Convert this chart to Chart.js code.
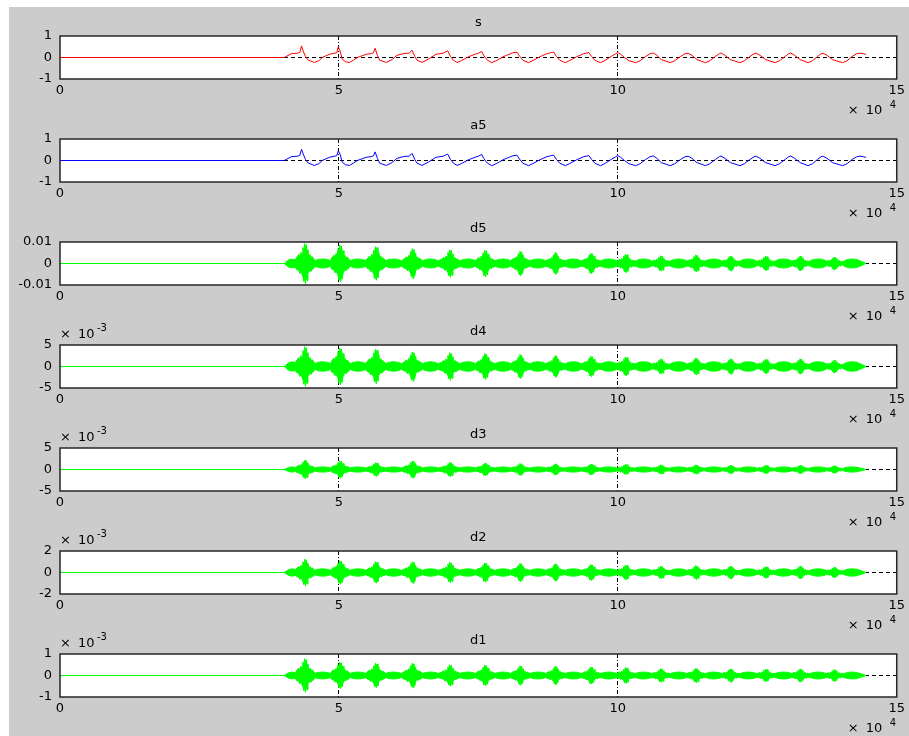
<!DOCTYPE html>
<html>
<head>
<meta charset="utf-8">
<script src="https://cdn.jsdelivr.net/npm/chart.js@4.4.1/dist/chart.umd.min.js"></script>
<style>
  html, body { margin: 0; padding: 0; background: #fff; overflow: hidden; }
  body { width: 909px; height: 736px; position: relative; }
  #fig { position: absolute; left: 9px; top: 7px; right: 0; bottom: 0; background: #cccccc; }
  canvas { position: absolute; left: 0; }
</style>
</head>
<body>
<div id="fig"></div>
<script>
// time axis, in units of 10^4 samples
const xTicks = [0, 5, 10, 15];
const xTickLabels = ['0', '5', '10', '15'];

// y ticks for each subplot
const sTicks = [-1, 0, 1];
const sTickLabels = ['-1', '0', '1'];
const d5Ticks = [-0.01, 0, 0.01];
const d5TickLabels = ['-0.01', '0', '0.01'];
const d4Ticks = [-0.005, 0, 0.005];
const d4TickLabels = ['-5', '0', '5'];
const d3Ticks = [-0.005, 0, 0.005];
const d3TickLabels = ['-5', '0', '5'];
const d2Ticks = [-0.002, 0, 0.002];
const d2TickLabels = ['-2', '0', '2'];
const d1Ticks = [-0.001, 0, 0.001];
const d1TickLabels = ['-1', '0', '1'];

// signal s : [time (x10^4), value]
const sCurve = [
  [0, 0], [4.02, 0], [4.15, 0.18], [4.26, 0.2], [4.30, 0.24], [4.33, 0.54], [4.36, 0.3], [4.40, 0.05],
  [4.45, -0.12], [4.56, -0.23], [4.64, -0.15], [4.70, 0], [4.83, 0.15], [4.92, 0.2], [4.96, 0.22],
  [4.99, 0.5], [5.02, 0.3], [5.06, -0.08], [5.12, -0.2], [5.19, -0.23], [5.26, -0.12], [5.33, 0],
  [5.49, 0.15], [5.58, 0.18], [5.62, 0.22], [5.65, 0.43], [5.69, 0.1], [5.73, -0.12], [5.85, -0.23],
  [5.95, -0.1], [6.04, 0.1], [6.17, 0.19], [6.26, 0.2], [6.31, 0.34], [6.36, 0.05], [6.40, -0.12],
  [6.49, -0.23], [6.60, -0.08], [6.74, 0.15], [6.87, 0.2], [6.95, 0.31], [7.00, 0.05], [7.05, -0.12],
  [7.12, -0.23], [7.20, -0.14], [7.32, 0.03], [7.45, 0.16], [7.50, 0.2], [7.56, 0.28], [7.60, 0.08],
  [7.66, -0.12], [7.74, -0.24], [7.82, -0.15], [7.94, 0.03], [8.06, 0.16], [8.12, 0.22], [8.19, 0.25],
  [8.24, 0.06], [8.30, -0.13], [8.40, -0.24], [8.48, -0.14], [8.60, 0.03], [8.72, 0.17], [8.79, 0.22],
  [8.85, 0.25], [8.90, 0.05], [8.96, -0.13], [9.06, -0.24], [9.14, -0.14], [9.26, 0.03], [9.38, 0.17],
  [9.43, 0.2], [9.48, 0.23], [9.53, 0.05], [9.59, -0.13], [9.69, -0.24], [9.77, -0.14], [9.88, 0.05],
  [9.96, 0.17], [10.00, 0.23], [10.05, 0.15], [10.12, 0], [10.20, -0.15], [10.32, -0.24], [10.40, -0.15],
  [10.50, 0.05], [10.58, 0.18], [10.64, 0.21], [10.70, 0.1], [10.78, -0.1], [10.94, -0.24], [11.02, -0.15],
  [11.12, 0.04], [11.20, 0.17], [11.26, 0.2], [11.33, 0.1], [11.42, -0.1], [11.57, -0.24], [11.65, -0.15],
  [11.75, 0.05], [11.82, 0.18], [11.85, 0.21], [11.92, 0.1], [12.02, -0.1], [12.19, -0.24], [12.27, -0.15],
  [12.37, 0.05], [12.44, 0.17], [12.48, 0.2], [12.55, 0.1], [12.65, -0.1], [12.82, -0.24], [12.90, -0.15],
  [13.00, 0.05], [13.06, 0.17], [13.10, 0.21], [13.17, 0.1], [13.27, -0.1], [13.41, -0.24], [13.49, -0.15],
  [13.58, 0.05], [13.64, 0.17], [13.68, 0.2], [13.75, 0.1], [13.85, -0.1], [14.03, -0.24], [14.11, -0.15],
  [14.20, 0.05], [14.28, 0.17], [14.34, 0.2], [14.40, 0.18], [14.45, 0.14]
];

// a5 follows s, only the first spikes come out lower
const a5Spikes = [[4.33, 0.52], [4.99, 0.45], [5.65, 0.4], [6.31, 0.33], [6.95, 0.3]];

// detail coefficients: burst centres and burst peak amplitude per level
const burstX = [4.40, 5.03, 5.67, 6.33, 7.00, 7.63, 8.26, 8.89, 9.53, 10.15, 10.78, 11.41, 12.03, 12.66, 13.28, 13.89];
const d5Peak = [0.0093, 0.0086, 0.0078, 0.0069, 0.0064, 0.0062, 0.0057, 0.0050, 0.0048, 0.0043, 0.0036, 0.0040, 0.0035, 0.0034, 0.0035, 0.0030];
const d4Peak = [0.0046, 0.0043, 0.0040, 0.0034, 0.0032, 0.0030, 0.0028, 0.0025, 0.0024, 0.0022, 0.0018, 0.0020, 0.0018, 0.0017, 0.0018, 0.0015];
const d3Peak = [0.0022, 0.0020, 0.0016, 0.0020, 0.0017, 0.0015, 0.0014, 0.0013, 0.0013, 0.0012, 0.0011, 0.0011, 0.0010, 0.0010, 0.0010, 0.0009];
const d2Peak = [0.00125, 0.0011, 0.0010, 0.0010, 0.00095, 0.0009, 0.00085, 0.0008, 0.00075, 0.0007, 0.0006, 0.00065, 0.0006, 0.00055, 0.0006, 0.0005];
const d1Peak = [0.00078, 0.00062, 0.00057, 0.00057, 0.0005, 0.00048, 0.00045, 0.00042, 0.0004, 0.00037, 0.00032, 0.00034, 0.00031, 0.0003, 0.00031, 0.00028];
// half-height of the smooth part between bursts
const d5Lens = 0.0021;
const d4Lens = 0.0011;
const d3Lens = 0.0006;
const d2Lens = 0.00034;
const d1Lens = 0.00016;

// burst outline: [offset from centre, upper fraction, lower fraction]
const burstShape = [
  [-0.16, 0.3, 0.3], [-0.12, 0.45, 0.35], [-0.10, 0.35, 0.5], [-0.08, 0.55, 0.4], [-0.06, 0.4, 0.55],
  [-0.045, 0.8, 0.65], [-0.03, 0.6, 0.9], [-0.015, 1, 0.75], [0, 0.8, 1], [0.015, 0.95, 0.7],
  [0.03, 0.6, 0.85], [0.045, 0.7, 0.5], [0.06, 0.35, 0.45], [0.08, 0.45, 0.3], [0.10, 0.3, 0.4],
  [0.12, 0.35, 0.28], [0.14, 0.28, 0.28]
];
// smooth part after each burst: [offset from centre, fraction of lens height]
const lensShape = [[0.17, 0.6], [0.23, 0.9], [0.31, 1], [0.39, 0.9], [0.45, 0.6]];
// signal onset and end
const onset = [[0, 0], [4.02, 0], [4.10, 0.8], [4.16, 1], [4.22, 0.8]];
const signalEnd = 14.45;

const textColor = '#000000';
const fontFamily = '"DejaVu Sans", "Liberation Sans", Arial, sans-serif';
const tickFont = { family: fontFamily, size: 13 };

// upper and lower edges of a detail band
const buildBand = (peaks, lens) => {
  const upper = [];
  const lower = [];
  onset.forEach(([x, f]) => {
    upper.push({ x, y: f * lens });
    lower.push({ x, y: -f * lens });
  });
  burstX.forEach((c, i) => {
    burstShape.forEach(([dx, fu, fl]) => {
      upper.push({ x: c + dx, y: fu * peaks[i] });
      lower.push({ x: c + dx, y: -fl * peaks[i] });
    });
    lensShape.forEach(([dx, f]) => {
      upper.push({ x: c + dx, y: f * lens });
      lower.push({ x: c + dx, y: -f * lens });
    });
  });
  upper.push({ x: signalEnd, y: 0 });
  lower.push({ x: signalEnd, y: 0 });
  return [
    { data: upper, borderColor: '#00ff00', borderWidth: 1, pointRadius: 0, fill: false },
    { data: lower, borderColor: '#00ff00', borderWidth: 1, pointRadius: 0, fill: '-1', backgroundColor: '#00ff00' }
  ];
};

const toPoints = (curve) => curve.map(([x, y]) => ({ x, y }));

const a5Curve = sCurve.map(([x, y]) => {
  const spike = a5Spikes.find((p) => p[0] === x);
  return [x, spike ? spike[1] : y];
});

// white axes box, title and exponent labels
const panelDecor = {
  id: 'panelDecor',
  beforeDraw(chart) {
    const a = chart.chartArea;
    const ctx = chart.ctx;
    ctx.save();
    ctx.fillStyle = '#ffffff';
    ctx.fillRect(a.left, a.top, a.right - a.left, a.bottom - a.top);
    ctx.restore();
  },
  afterDraw(chart, args, opts) {
    const a = chart.chartArea;
    const ctx = chart.ctx;
    ctx.save();
    ctx.strokeStyle = '#262626';
    ctx.lineWidth = 1.5;
    ctx.strokeRect(a.left, a.top, a.right - a.left, a.bottom - a.top);
    ctx.fillStyle = textColor;
    ctx.textBaseline = 'middle';
    ctx.font = '13px ' + fontFamily;
    ctx.textAlign = 'center';
    ctx.fillText(opts.title, (a.left + a.right) / 2, a.top - 13);
    ctx.textAlign = 'left';
    ctx.fillText('×', a.right - 49, a.bottom + 32);
    ctx.fillText('10', a.right - 31, a.bottom + 32);
    ctx.font = '10px ' + fontFamily;
    ctx.fillText('4', a.right - 7, a.bottom + 26);
    if (opts.yExp) {
      ctx.font = '13px ' + fontFamily;
      ctx.fillText('×', a.left, a.top - 10);
      ctx.fillText('10', a.left + 18, a.top - 10);
      ctx.font = '10px ' + fontFamily;
      ctx.fillText(opts.yExp, a.left + 37, a.top - 17);
    }
    ctx.restore();
  }
};

const panels = [
  { title: 's', top: 36, yTicks: sTicks, yLabels: sTickLabels,
    datasets: [{ data: toPoints(sCurve), borderColor: '#ff0000', borderWidth: 1, pointRadius: 0 }] },
  { title: 'a5', top: 139, yTicks: sTicks, yLabels: sTickLabels,
    datasets: [
      { data: toPoints(a5Curve), borderColor: '#0000ff', borderWidth: 1, pointRadius: 0 },
      { data: [{ x: 0, y: 0 }, { x: 2, y: 0 }], borderColor: '#000000', borderWidth: 1, borderDash: [4, 3], pointRadius: 0 }
    ] },
  { title: 'd5', top: 242, yTicks: d5Ticks, yLabels: d5TickLabels, datasets: buildBand(d5Peak, d5Lens) },
  { title: 'd4', top: 345, yTicks: d4Ticks, yLabels: d4TickLabels, yExp: '-3', datasets: buildBand(d4Peak, d4Lens) },
  { title: 'd3', top: 448, yTicks: d3Ticks, yLabels: d3TickLabels, yExp: '-3', datasets: buildBand(d3Peak, d3Lens) },
  { title: 'd2', top: 551, yTicks: d2Ticks, yLabels: d2TickLabels, yExp: '-3', datasets: buildBand(d2Peak, d2Lens) },
  { title: 'd1', top: 654, yTicks: d1Ticks, yLabels: d1TickLabels, yExp: '-3', datasets: buildBand(d1Peak, d1Lens) }
];

panels.forEach((p) => {
  const canvas = document.createElement('canvas');
  canvas.width = 909;
  canvas.height = 120;
  canvas.style.top = (p.top - 24) + 'px';
  document.body.appendChild(canvas);
  canvas.getContext('2d').letterSpacing = '1px';

  new Chart(canvas, {
    type: 'line',
    data: { datasets: p.datasets },
    options: {
      responsive: false,
      animation: false,
      events: [],
      layout: { padding: { top: 24, right: 10, left: 0, bottom: 0 } },
      elements: { line: { tension: 0 } },
      plugins: {
        legend: { display: false },
        tooltip: { enabled: false },
        panelDecor: { title: p.title, yExp: p.yExp }
      },
      scales: {
        x: {
          type: 'linear',
          min: 0,
          max: 15,
          afterBuildTicks: (s) => { s.ticks = xTicks.map((v) => ({ value: v })); },
          afterFit: (s) => { s.height = 53; },
          ticks: { callback: (v, i) => xTickLabels[i], padding: 4, maxRotation: 0, autoSkip: false, color: textColor, font: tickFont },
          grid: {
            drawTicks: false,
            lineWidth: 1,
            color: (c) => (c.tick && (c.tick.value === 5 || c.tick.value === 10) ? '#000000' : 'rgba(0,0,0,0)')
          },
          border: { display: false, dash: [4, 2, 1, 2] }
        },
        y: {
          type: 'linear',
          min: p.yTicks[0],
          max: p.yTicks[p.yTicks.length - 1],
          afterBuildTicks: (s) => { s.ticks = p.yTicks.map((v) => ({ value: v })); },
          afterFit: (s) => { s.width = 60; },
          ticks: { callback: (v, i) => p.yLabels[i], padding: 8, color: textColor, font: tickFont },
          grid: {
            drawTicks: false,
            lineWidth: 1,
            color: (c) => (c.tick && c.tick.value === 0 ? '#000000' : 'rgba(0,0,0,0)')
          },
          border: { display: false, dash: [4, 3] }
        }
      }
    },
    plugins: [panelDecor]
  });
});
</script>
</body>
</html>
